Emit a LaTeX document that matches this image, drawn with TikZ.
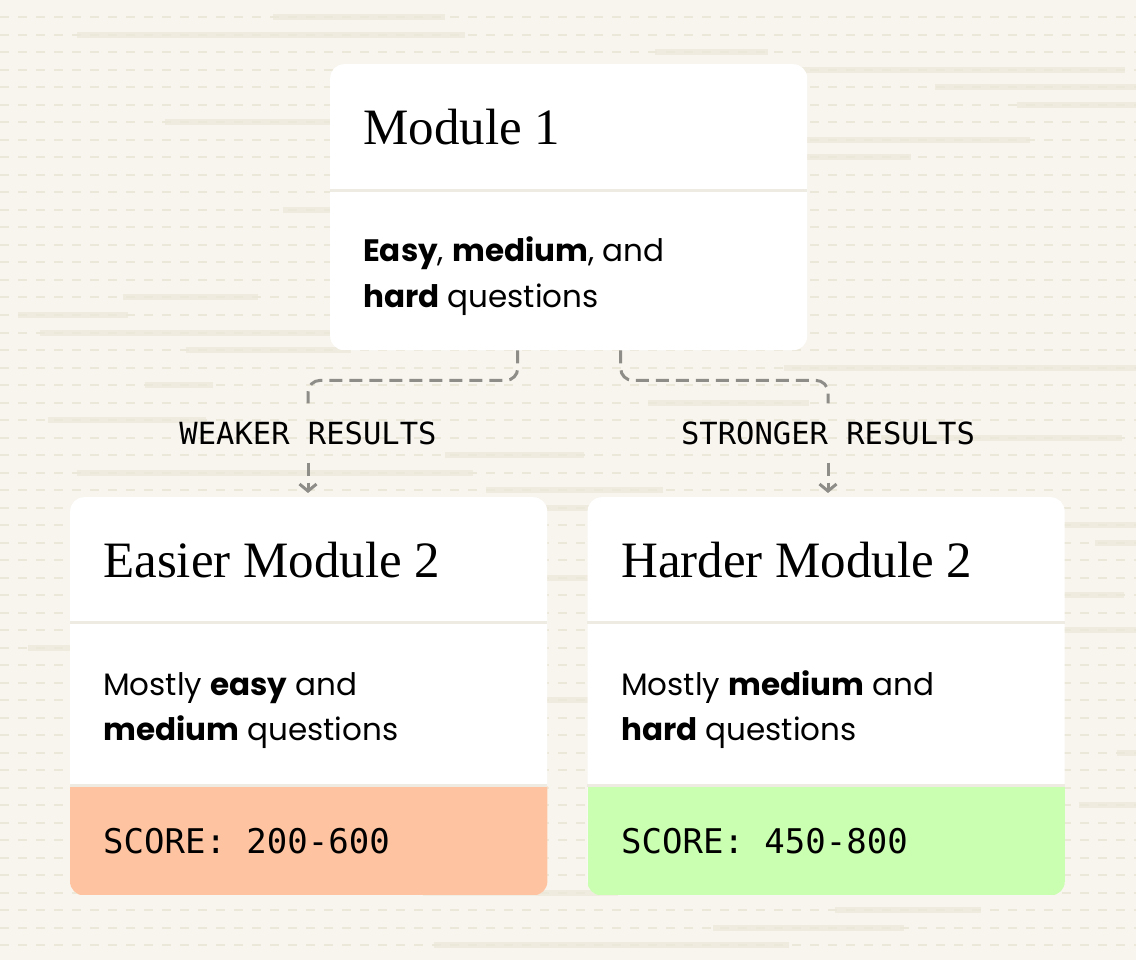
\documentclass[tikz,border=0pt]{standalone}
\usepackage{fontspec}
\setmainfont{Poppins}
\newfontfamily\headfont{Liberation Serif}
\newfontfamily\codefont{DejaVu Sans Mono}
\usepackage{tikz}
\usetikzlibrary{arrows,arrows.meta}
\usetikzlibrary{positioning}
\definecolor{paper}{HTML}{F8F5EE}
\definecolor{streakcol}{HTML}{ECE8D9}
\definecolor{rule}{HTML}{EEEBE2}
\definecolor{linkgray}{HTML}{8F8D88}
\definecolor{peach}{HTML}{FEC4A2}
\definecolor{mint}{HTML}{CAFEB0}
\tikzstyle{streak}=[streakcol,line width=2pt,dash pattern=on 9pt off 9pt]
\tikzstyle{smear}=[streakcol,line width=6pt,opacity=0.7]
\tikzstyle{card}=[fill=white,rounded corners=14pt,minimum width=477pt,anchor=north west,inner sep=0pt]
\tikzstyle{sep}=[rule,line width=3pt]
\tikzstyle{head}=[anchor=base west,inner sep=0pt,font=\headfont\fontsize{51}{51}\selectfont]
\tikzstyle{txt}=[anchor=base west,inner sep=0pt,font=\fontsize{31}{46}\selectfont]
\tikzstyle{score}=[anchor=base west,inner sep=0pt,font=\codefont\fontsize{34}{34}\selectfont]
\tikzstyle{tag}=[font=\codefont\fontsize{30.5}{30.5}\selectfont,inner xsep=0pt,inner ysep=18pt]
\tikzstyle{link}=[draw=linkgray,line width=3pt,dash pattern=on 13pt off 7pt,rounded corners=12pt]
\tikzstyle{tip}=[-{Straight Barb[length=7pt,width=17pt]},shorten >=4pt]
\begin{document}
\begin{tikzpicture}[x=1pt,y=-1pt]
\useasboundingbox (0,0) rectangle (1136,960);

% paper background
\begin{scope}
\clip (0,0) rectangle (1136,960);
\fill[paper] (0,0) rectangle (1136,960);
\foreach \i in {1,...,54} \draw[streak] (0,\i*17.5) -- (1136,\i*17.5);
\pgfmathsetseed{42}
\foreach \i in {1,...,54} {
  \pgfmathsetmacro{\xs}{rnd*1136}
  \pgfmathsetmacro{\ls}{60+rnd*340}
  \draw[smear] (\xs,\i*17.5) -- ++(\ls,0);
}
\end{scope}

% cards
\node[card,minimum height=286pt] (m1) at (330,64) {};
\node[card,minimum height=398pt] (easy) at (70,497) {};
\node[card,minimum height=398pt] (hard) [right=40pt of easy] {};

\begin{scope}
\clip[rounded corners=14pt] (easy.north west) rectangle (easy.south east);
\fill[peach] (70,786) rectangle (548,895);
\end{scope}
\begin{scope}
\clip[rounded corners=14pt] (hard.north west) rectangle (hard.south east);
\fill[mint] (588,786) rectangle (1066,895);
\end{scope}

\draw[sep] (m1.west |- 0,191) -- (m1.east |- 0,191);
\draw[sep] (easy.west |- 0,622) -- (easy.east |- 0,622);
\draw[sep] (easy.west |- 0,785) -- (easy.east |- 0,785);
\draw[sep] (hard.west |- 0,622) -- (hard.east |- 0,622);
\draw[sep] (hard.west |- 0,785) -- (hard.east |- 0,785);

% texts
\node[head] (m1head) at (363,145) {Module 1};
\node[txt] (m1l1) at (363,262) {\textbf{Easy}, \textbf{medium}, and};
\node[txt] (m1l2) at (363,308) {\textbf{hard} questions};

\node[head] (easyhead) at (103,577) {Easier Module 2};
\node[txt] (easyl1) at (103,695) {Mostly \textbf{easy} and};
\node[txt] (easyl2) at (103,740) {\textbf{medium} questions};
\node[score] (easyscore) at (103,853) {SCORE: 200-600};

\node[head] (hardhead) at (621,577) {Harder Module 2};
\node[txt] (hardl1) at (621,695) {Mostly \textbf{medium} and};
\node[txt] (hardl2) at (621,740) {\textbf{hard} questions};
\node[score] (hardscore) at (621,853) {SCORE: 450-800};

% links
\node[tag] (weak) at (308,433) {WEAKER RESULTS};
\node[tag] (strong) at (828,433) {STRONGER RESULTS};
\draw[link] ([xshift=-51pt]m1.south) -- ++(0,30) -| (weak.north);
\draw[link] ([xshift=52pt]m1.south) -- ++(0,30) -| (strong.north);
\draw[link,tip] (weak.south) -- (weak.south |- easy.north);
\draw[link,tip] (strong.south) -- (strong.south |- hard.north);
\end{tikzpicture}
\end{document}
